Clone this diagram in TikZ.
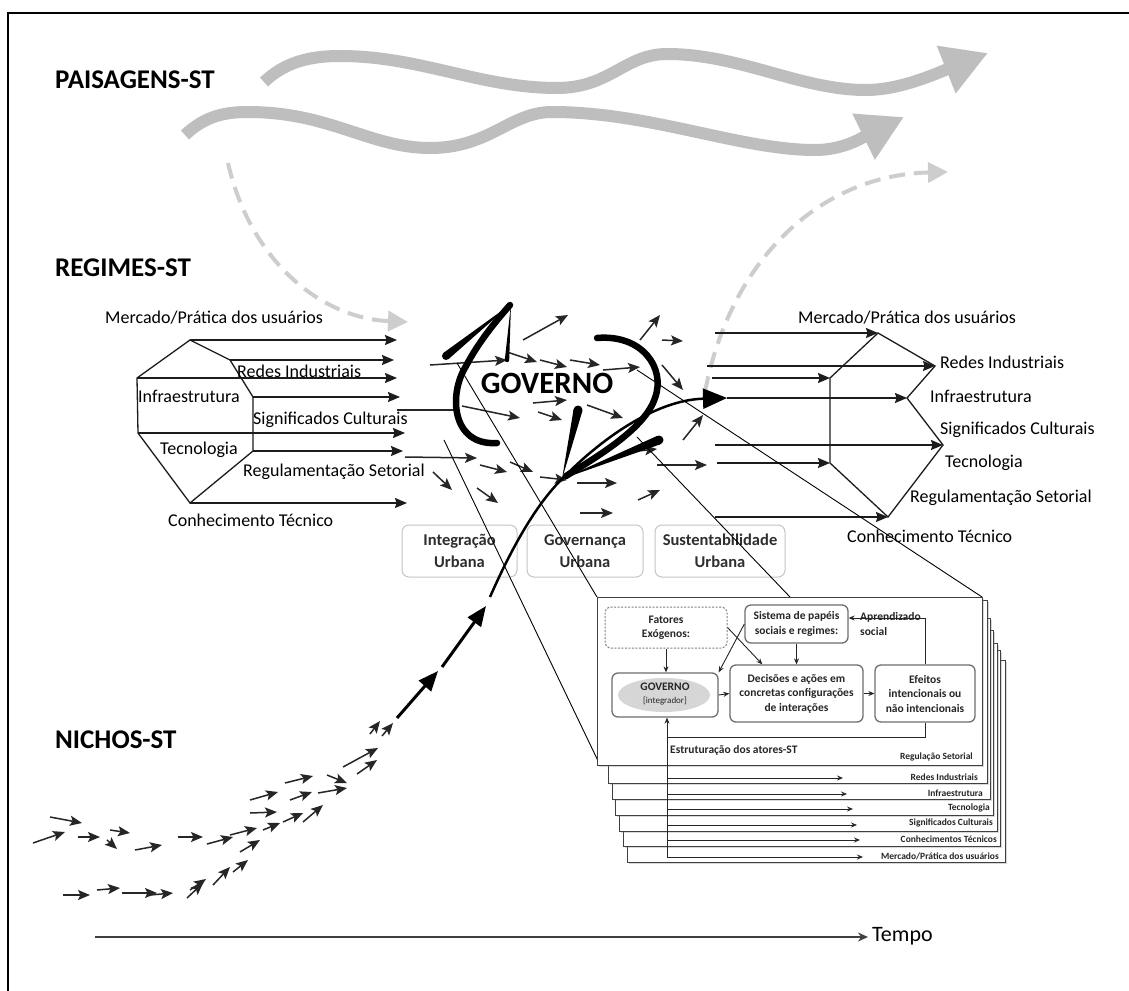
\documentclass[tikz,border=0pt]{standalone}
\usepackage{fontspec}
\setmainfont{Carlito}
\usetikzlibrary{arrows.meta,calc,shadows}

\definecolor{wavegray}{HTML}{BEBEBE}
\definecolor{dashgray}{HTML}{CDCDCD}
\definecolor{ink}{HTML}{1C1C1C}
\definecolor{fieldink}{HTML}{262626}
\definecolor{urbedge}{HTML}{C6C6C6}
\definecolor{urbtext}{HTML}{2E2E2E}
\definecolor{insetedge}{HTML}{6E6E6E}
\definecolor{insettext}{HTML}{262626}
\definecolor{ovalgray}{HTML}{D6D6D6}

% tapered stroke from a blunt end (#1) to a sharp point (#2), half width #3
\newcommand\drawbarb[3]{%
  \fill ($(#1)!#3!90:(#2)$) -- (#2) -- ($(#1)!#3!-90:(#2)$) -- cycle;
  \fill (#1) circle (#3);}

\begin{document}
\begin{tikzpicture}[x=1pt,y=-1pt,
  layername/.style={font=\bfseries\fontsize{27}{30}\selectfont,anchor=west,inner sep=0pt},
  reglabel/.style={font=\fontsize{18}{20}\selectfont,anchor=west,inner sep=0pt},
  regedge/.style={line width=1.3pt,draw=ink},
  regarrow/.style={line width=1.3pt,draw=ink,-{Stealth[length=12pt,width=10pt,inset=1.5pt]}},
  fieldarrow/.style={line width=1.5pt,draw=fieldink,-{Stealth[length=12pt,width=10pt,inset=2.5pt]}},
  wavearrow/.style={line width=12pt,draw=wavegray,-{Triangle[length=45pt,width=48pt]}},
  dasharrow/.style={line width=4pt,draw=dashgray,dash pattern=on 16pt off 9pt,-{Triangle[length=20pt,width=20pt]}},
  bigloop/.style={line width=6.5pt,draw=black,line cap=round},
  nichepath/.style={line width=3pt,draw=black,-{Triangle[length=20pt,width=16pt]}},
  thinline/.style={line width=0.9pt,draw=black},
  urban/.style={draw=urbedge,line width=1pt,rounded corners=7pt,fill=white,minimum height=52pt,inner sep=0pt,
    font=\bfseries\fontsize{16.5}{22}\selectfont,text=urbtext,align=center},
  panel/.style={draw=black!75,line width=1pt,fill=white,drop shadow={opacity=0.3,shadow xshift=2pt,shadow yshift=-2pt}},
  insetbox/.style={draw=insetedge,line width=1.3pt,rounded corners=6pt,fill=white,inner sep=0pt,
    font=\bfseries\fontsize{11.5}{14.5}\selectfont,text=insettext,align=center},
  insetarrow/.style={draw=insettext,line width=0.9pt,-{Stealth[length=6pt,width=5pt]}},
  stacklabel/.style={font=\bfseries\fontsize{9.5}{11}\selectfont,text=insettext,anchor=east,inner sep=0pt},
  stackarrow/.style={draw=insettext,line width=0.8pt,-{Stealth[length=6pt,width=5pt]}}
]
\useasboundingbox (0,0) rectangle (1129,990);
\fill[white] (0,0) rectangle (1129,990);

% outer frame
\draw[line width=1.5pt] (8,995) -- (8,13) -- (1135,13);

% level names
\node[layername] (paisagens) at (55,80) {PAISAGENS-ST};
\node[layername] (regimes) at (55,268) {REGIMES-ST};
\node[layername] (nichos) at (55,740) {NICHOS-ST};

% landscape waves
\draw[wavearrow] (264,82) .. controls (285,62) and (310,56) .. (340,56)
  .. controls (420,56) and (480,88) .. (557,88)
  .. controls (610,88) and (625,54) .. (667,54)
  .. controls (740,54) and (800,90) .. (866,90)
  .. controls (900,90) and (935,74) .. (988,53);
\draw[wavearrow] (185,135) .. controls (205,116) and (225,112) .. (248,112)
  .. controls (330,112) and (370,148) .. (430,148)
  .. controls (490,148) and (510,112) .. (552,112)
  .. controls (650,112) and (740,150) .. (815,150)
  .. controls (845,150) and (865,136) .. (904,117);

% dashed influences
\draw[dasharrow] (228,163) .. controls (250,260) and (320,318) .. (408,322);
\draw[dasharrow] (705,392) .. controls (730,260) and (820,175) .. (948,172);

% left regime
\coordinate (LT) at (190,340);
\coordinate (LA) at (230,360);
\coordinate (LF) at (137,378);
\coordinate (LB) at (253,397);
\coordinate (LE) at (138,433);
\coordinate (LC) at (253,451);
\coordinate (LD) at (190,503);
\draw[regedge] (LT) -- (LA) -- (LB) -- (LC) -- (LD) -- (LE) -- (LF) -- cycle;
\coordinate (lt) at (397,340);
\coordinate (la) at (394,360);
\coordinate (lf) at (397,378);
\coordinate (lb) at (400,397);
\coordinate (le) at (405,433);
\coordinate (lc) at (403,451);
\coordinate (ld) at (407,503);
\foreach \s/\e in {LT/lt,LA/la,LF/lf,LB/lb,LE/le,LC/lc,LD/ld} \draw[regarrow] (\s) -- (\e);
\node[reglabel] (lmerc) at (105,318) {Mercado/Prática dos usuários};
\node[reglabel] (lredes) at (237,371) {Redes Industriais};
\node[reglabel] (linfra) at (138,396) {Infraestrutura};
\node[reglabel] (lsign) at (253,420) {Significados Culturais};
\node[reglabel] (ltec) at (160,450) {Tecnologia};
\node[reglabel] (lreg) at (243,472) {Regulamentação Setorial};
\node[reglabel] (lcon) at (168,520) {Conhecimento Técnico};

% right regime
\coordinate (RA) at (830,378);
\coordinate (RB) at (878,333);
\coordinate (RC) at (935,366);
\coordinate (RD) at (907,398);
\coordinate (RE) at (943,445);
\coordinate (RF) at (888,517);
\coordinate (RG) at (830,463);
\draw[regedge] (RA) -- (RB) -- (RC) -- (RD) -- (RE) -- (RF) -- (RG) -- cycle;
\coordinate (rb) at (715,333);
\coordinate (rc) at (707,366);
\coordinate (ra) at (712,378);
\coordinate (rd) at (727,398);
\coordinate (re) at (715,445);
\coordinate (rg) at (717,463);
\coordinate (rf) at (715,517);
\foreach \s/\e in {rb/RB,rc/RC,ra/RA,rd/RD,re/RE,rg/RG,rf/RF} \draw[regarrow] (\s) -- (\e);
\node[reglabel] (rmerc) at (798,318) {Mercado/Prática dos usuários};
\node[reglabel] (rredes) at (940,362) {Redes Industriais};
\node[reglabel] (rinfra) at (930,396) {Infraestrutura};
\node[reglabel] (rsign) at (940,430) {Significados Culturais};
\node[reglabel] (rtec) at (945,463) {Tecnologia};
\node[reglabel] (rreg) at (910,498) {Regulamentação Setorial};
\node[reglabel] (rcon) at (847,536) {Conhecimento Técnico};

% field of actions around the government
\draw[line width=1.3pt,draw=fieldink] (397,410) -- (455,410);
\foreach \a/\b/\c/\d in {
  523/340/568/315, 640/340/660/315, 662/340/683/341, 430/365/507/360,
  507/352/537/362, 540/360/567/367, 570/360/600/365, 603/370/640/367,
  662/365/683/390, 462/406/520/418, 533/403/567/400, 538/412/562/420,
  587/405/623/418, 405/457/477/458, 480/465/507/472, 510/462/533/472,
  433/472/452/490, 477/488/498/503, 540/477/567/480, 577/483/617/483,
  580/513/613/513, 638/500/660/490, 683/440/703/415, 657/465/707/465,
  628/452/657/449}
  \draw[fieldarrow] (\a,\b) -- (\c,\d);

% niche experiments
\foreach \a/\b/\c/\d in {
  33/843/65/832, 50/817/82/823, 78/837/100/837, 110/830/130/833,
  107/840/117/849, 135/850/162/845, 178/837/203/837, 207/844/233/837,
  230/835/257/828, 240/852/260/840, 250/813/277/812, 250/800/278/792,
  263/830/280/823, 283/822/303/813, 303/822/323/805, 285/783/313/776,
  290/800/312/792, 318/793/347/788, 327/775/347/783, 343/767/378/748,
  357/774/377/760, 370/734/380/721, 382/736/393/723,
  63/895/90/895, 97/890/120/888, 122/893/157/893, 150/895/173/893,
  187/898/203/883, 190/890/206/879, 213/885/230/867, 233/872/248/860}
  \draw[fieldarrow] (\a,\b) -- (\c,\d);

% urban dimensions
\node[urban,minimum width=115pt] (integ) at (459.5,551) {Integração\\Urbana};
\node[urban,minimum width=116pt] (govern) at (585,551) {Governança\\Urbana};
\node[urban,minimum width=130pt] (sust) at (720,551) {Sustentabilidade\\Urbana};

% niche trajectory into the regime
\coordinate (n0) at (397,718);
\coordinate (n1) at (438,671);
\coordinate (n2) at (442,667);
\coordinate (n3) at (486,606);
\coordinate (n4) at (490,597);
\coordinate (njoin) at (563,478);
\draw[nichepath] (n0) -- (n1);
\draw[nichepath] (n2) -- (n3);
\draw[line width=2.5pt,-{Triangle[length=24pt,width=20pt]}] (n4) .. controls (515,540) and (540,500) .. (njoin)
  .. controls (600,440) and (655,400) .. (rd);

% government loops
\draw[bigloop] (497,443) .. controls (452,446) and (448,395) .. (466,366)
  .. controls (478,343) and (495,322) .. (510,305);
\drawbarb{446,356}{511,304}{4pt}
\drawbarb{507,360}{511,304}{2.2pt}
\draw[bigloop] (597,338) .. controls (642,334) and (666,368) .. (655,398)
  .. controls (645,428) and (600,455) .. (566,476);
\drawbarb{578,410}{562,479}{4.5pt}
\drawbarb{659,440}{562,479}{4.5pt}

\node[font=\bfseries\fontsize{31}{34}\selectfont,inner sep=1pt] (governo) at (547,383) {GOVERNO};

% projection lines towards the detailed panel
\draw[thinline] (444,440) -- (600,765);
\draw[thinline] (457,363) -- (597,597);
\draw[thinline] (637,370) -- (982,597);
\draw[thinline] (637,437) -- (790,597);

% stacked panels (one per regime dimension)
\path[panel] (627,660) rectangle (1005,862);
\path[panel] (623,650) rectangle (1000,846);
\path[panel] (619,643) rectangle (997,831);
\path[panel] (615,630) rectangle (993,815);
\path[panel] (612,618) rectangle (990,799);
\path[panel] (608,600) rectangle (987,783);
\path[panel] (597,597) rectangle (982,765);

\node[stacklabel] (sredes) at (978,777) {Redes Industriais};
\node[stacklabel] (sinfra) at (983,793) {Infraestrutura};
\node[stacklabel] (stec) at (990,808) {Tecnologia};
\node[stacklabel] (ssign) at (993,823) {Significados Culturais};
\node[stacklabel] (scon) at (997,839) {Conhecimentos Técnicos};
\node[stacklabel] (smerc) at (999,856) {Mercado/Prática dos usuários};
\node[stacklabel] (sreg) at (973,757) {Regulação Setorial};

% detailed panel content
\node[insetbox,draw=gray,dash pattern=on 2pt off 1.5pt,line width=1pt,minimum width=122pt,minimum height=41pt] (fatores) at (666,627.5) {Fatores\\Exógenos:};
\node[insetbox,minimum width=103pt,minimum height=38pt] (sistema) at (796.5,624) {Sistema de papéis\\sociais e regimes:};
\node[insetbox,minimum width=106pt,minimum height=44pt] (govbox) at (665,695) {};
\fill[ovalgray] (664,695) ellipse [x radius=46, y radius=17];
\node[font=\bfseries\fontsize{11.5}{13}\selectfont,text=insettext,align=center,inner sep=0pt] (govtext) at (665,694)
  {GOVERNO\\{\mdseries\fontsize{9}{11}\selectfont [integrador]}};
\node[insetbox,minimum width=133pt,minimum height=57pt] (decisoes) at (796.5,693.5) {Decisões e ações em\\concretas configurações\\de interações};
\node[insetbox,minimum width=100pt,minimum height=57pt] (efeitos) at (925,693.5) {Efeitos\\intencionais ou\\não intencionais};
\node[font=\bfseries\fontsize{11.5}{14.5}\selectfont,text=insettext,align=left,anchor=west,inner sep=0pt] (aprend) at (860,624) {Aprendizado\\social};
\node[font=\bfseries\fontsize{11.5}{14}\selectfont,text=insettext,anchor=west,inner sep=0pt] (estrut) at (670,750) {Estruturação dos atores-ST};

\draw[insetarrow] (fatores.south) -- (fatores.south |- govbox.north);
\draw[insetarrow] (fatores.east) -- ($(decisoes.north west)+(33,0)$);
\draw[insetarrow] (sistema.south) -- (sistema.south |- decisoes.north);
\draw[insetarrow] (sistema.west) -- (govbox.north east);
\draw[insetarrow] (govbox.east) -- (decisoes.west);
\draw[insetarrow] (decisoes.east) -- (efeitos.west);
\draw[insetarrow] (efeitos.north) |- ($(sistema.east)+(0,-6)$);
\coordinate (feedcorner) at (667,737);
\coordinate (stackbase) at (667,857);
\draw[draw=insettext,line width=0.9pt] (efeitos.south) |- (feedcorner);
\draw[insetarrow] (stackbase) -- (stackbase |- govbox.south);
\foreach \y/\xe in {778/843,794/847,809/853,825/857,840/860,857/863}
  \draw[stackarrow] (stackbase |- 0,\y) -- (\xe,\y);

% time axis
\coordinate (t0) at (95,937);
\coordinate (t1) at (868,937);
\draw[line width=2.2pt,draw=black!75,-{Stealth[length=10pt,width=9pt]}] (t0) -- (t1);
\node[font=\fontsize{22}{24}\selectfont,anchor=west,inner sep=0pt] (tempo) at (872,936) {Tempo};
\end{tikzpicture}
\end{document}
